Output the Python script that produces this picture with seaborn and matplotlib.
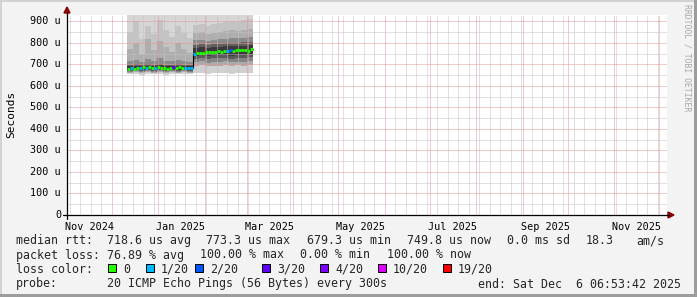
import numpy as np
import pandas as pd
import matplotlib
matplotlib.use("Agg")
import matplotlib.pyplot as plt
import matplotlib.dates as mdates
from matplotlib.patches import Rectangle, Polygon
from matplotlib.lines import Line2D
import seaborn as sns

# ---------------- data ----------------
start_date = "2024-12-11"          # first sample, 2-day consolidation for the median
median_us = [680, 682, 681, 684, 683, 686, 684, 690, 685, 683, 686, 684, 682, 681,
             684, 686, 683, 688, 684, 685, 684, 684,
             750, 754, 752, 753, 757, 758, 760, 756, 761, 759, 762, 763, 767, 764,
             766, 768, 765, 767, 764, 771]
loss_count = [0, 1, 0, 0, 1, 0, 1, 0, 0, 1, 0, 0, 0, 0, 0, 3, 0, 0, 0, 1, 1, 1,
              1, 0, 0, 0, 0, 0, 0, 0, 0, 0, 0, 1, 2, 0, 0, 0, 0, 0, 0, 0]

# smoke (ping distribution) at 4-day consolidation, lowest to highest
smoke_p0 = [654, 656, 653, 655, 654, 657, 653, 655, 654, 656, 655,
            658, 660, 656, 659, 658, 661, 657, 659, 658, 660]
smoke_p1 = [662, 663, 661, 663, 662, 664, 661, 663, 662, 663, 662,
            694, 697, 692, 695, 694, 698, 693, 696, 695, 699]
smoke_p2 = [667, 668, 666, 668, 667, 669, 666, 668, 667, 668, 667,
            711, 714, 709, 712, 712, 716, 710, 713, 713, 717]
smoke_p3 = [671, 672, 670, 672, 671, 673, 670, 672, 671, 672, 671,
            727, 730, 725, 728, 728, 732, 726, 729, 729, 733]
smoke_p4 = [676, 677, 675, 677, 676, 678, 675, 677, 676, 677, 676,
            741, 744, 739, 742, 743, 746, 741, 744, 744, 748]
smoke_q1 = [692, 694, 691, 695, 693, 697, 693, 692, 694, 693, 692,
            778, 781, 776, 780, 782, 784, 785, 786, 788, 790]
smoke_q2 = [698, 701, 697, 702, 699, 704, 699, 698, 701, 699, 698,
            792, 795, 790, 794, 797, 799, 800, 801, 803, 806]
smoke_q3 = [715, 722, 712, 725, 716, 730, 718, 714, 720, 716, 713,
            812, 816, 810, 815, 818, 820, 822, 822, 825, 828]
smoke_q4 = [770, 800, 750, 820, 765, 810, 780, 760, 800, 770, 755,
            845, 850, 842, 848, 852, 856, 858, 857, 862, 866]
smoke_q5 = [850, 900, 820, 880, 840, 905, 860, 830, 880, 845, 825,
            885, 890, 880, 888, 893, 897, 900, 898, 905, 910]

loss_labels = ["0", "1/20", "2/20", "3/20", "4/20", "10/20", "19/20"]
loss_thresholds = [0, 1, 2, 3, 4, 10, 19]
loss_colors = ["#26ff00", "#00b8ff", "#0059ff", "#5e00ff", "#7e00ff", "#dd00ff", "#ff0000"]

y_ticks = [0, 100, 200, 300, 400, 500, 600, 700, 800, 900]
x_label_text = ["Nov 2024", "Jan 2025", "Mar 2025", "May 2025", "Jul 2025", "Sep 2025", "Nov 2025"]
x_label_dates = ["2024-11-16", "2025-01-16", "2025-03-16", "2025-05-16",
                 "2025-07-16", "2025-09-16", "2025-11-16"]
x_start = "2024-11-01 06:53:42"
x_end = "2025-12-06 06:53:42"

stats_rtt = ["718.6 us avg", "773.3 us max", "679.3 us min", "749.8 us now",
             "0.0 ms sd", "18.3", "am/s"]
stats_loss = ["76.89 % avg", "100.00 % max", "0.00 % min", "100.00 % now"]
probe_text = "20 ICMP Echo Pings (56 Bytes) every 300s"
end_text = "end: Sat Dec  6 06:53:42 2025"

# ---------------- figure ----------------
W, H = 697, 297
sns.set_theme(style="white")
plt.rcParams["font.family"] = ["DejaVu Sans Mono", "DejaVu Sans"]

fig = plt.figure(figsize=(W / 100, H / 100), dpi=100, facecolor="#f3f3f3")

def fx(x):
    return x / W

def fy(y):
    return 1 - y / H

L, R, T, B = 67, 667, 15, 215
ax = fig.add_axes([fx(L), fy(B), (R - L) / W, (B - T) / H])
ax.set_facecolor("white")

times = pd.date_range(start_date, periods=len(median_us) + 1, freq="2D")
smoke_times = pd.date_range(start_date, periods=len(smoke_p0) + 1, freq="4D")

def ext(a):
    return np.append(np.asarray(a, float), a[-1])

bands = [
    (smoke_p0, smoke_p1, "#d0d0d0"),
    (smoke_p1, smoke_p2, "#aaaaaa"),
    (smoke_p2, smoke_p3, "#858585"),
    (smoke_p3, smoke_p4, "#5a5a5a"),
    (smoke_p4, smoke_q1, "#3a3a3a"),
    (smoke_q1, smoke_q2, "#606060"),
    (smoke_q2, smoke_q3, "#8a8a8a"),
    (smoke_q3, smoke_q4, "#aeaeae"),
    (smoke_q4, smoke_q5, "#c4c4c4"),
]
for lo, hi, c in bands:
    ax.fill_between(smoke_times, ext(lo), ext(hi), step="post", color=c,
                    linewidth=0, zorder=1)
ax.fill_between(smoke_times, ext(smoke_q5), np.full(len(smoke_times), 1000.0), step="post",
                color="#d6d6d6", linewidth=0, zorder=1)

# grid
ax.set_xlim(pd.Timestamp(x_start), pd.Timestamp(x_end))
ax.set_ylim(0, 930)
ax.xaxis.set_major_locator(mdates.MonthLocator())
ax.xaxis.set_minor_locator(mdates.WeekdayLocator(byweekday=mdates.SU))
ax.set_yticks(y_ticks)
ax.set_yticks(np.arange(50, 930, 100), minor=True)
ax.grid(which="minor", color="#c2c2c2", linestyle=(0, (1, 1)), linewidth=0.72, zorder=2)
ax.grid(which="major", color="#ea9494", linestyle=(0, (1, 1)), linewidth=0.72, zorder=2.1)
ax.set_axisbelow(False)
ax.tick_params(which="both", length=0, labelbottom=False, labelleft=False)
for s in ax.spines.values():
    s.set_visible(False)

# median line (black step underneath, coloured by loss on top)
df = pd.DataFrame({"t": times, "median": ext(median_us)})
sns.lineplot(data=df, x="t", y="median", drawstyle="steps-post", color="black",
             linewidth=0.8, ax=ax, zorder=3)

def loss_color(n):
    c = loss_colors[0]
    for th, col in zip(loss_thresholds, loss_colors):
        if n >= th:
            c = col
    return c

ax.hlines(median_us, times[:-1], times[1:], colors=[loss_color(n) for n in loss_count],
          linewidth=2.0, zorder=4)
ax.set_xlabel("")
ax.set_ylabel("")

# tick labels
tick_fs = 7.3
for v in y_ticks:
    lab = "0" if v == 0 else f"{v} u"
    ax.text(-0.01, v, lab, transform=ax.get_yaxis_transform(), ha="right", va="center",
            fontsize=tick_fs, color="black")
for d, lab in zip(x_label_dates, x_label_text):
    ax.text(pd.Timestamp(d), -0.035, lab, transform=ax.get_xaxis_transform(), ha="center",
            va="top", fontsize=tick_fs, color="black")

fig.text(fx(11), fy(114), "Seconds", rotation=90, ha="center", va="center",
         fontsize=8, color="black")
fig.text(fx(687), fy(4), "RRDTOOL / TOBI OETIKER", rotation=270, ha="center", va="top",
         fontsize=5.9, color="#a8a8a8")

# axis lines with arrows
axc = "#000000"
fig.add_artist(Line2D([fx(63), fx(669)], [fy(B), fy(B)], color=axc, linewidth=0.9))
fig.add_artist(Line2D([fx(L), fx(L)], [fy(B + 4), fy(12)], color=axc, linewidth=0.9))
arr = "#8b0000"
fig.add_artist(Polygon([[fx(668), fy(B - 3)], [fx(668), fy(B + 3)], [fx(674), fy(B)]],
                       closed=True, color=arr, transform=fig.transFigure))
fig.add_artist(Polygon([[fx(L - 3), fy(13)], [fx(L + 3), fy(13)], [fx(L), fy(7)]],
                       closed=True, color=arr, transform=fig.transFigure))

# legend text
lfs = 8.4
rows_y = [244, 258.5, 273, 287.5]
fig.text(fx(16), fy(rows_y[0]), "median rtt:", fontsize=lfs, va="baseline")
for x, s in zip([107, 206, 307, 407, 507, 586, 636], stats_rtt):
    fig.text(fx(x), fy(rows_y[0]), s, fontsize=lfs, va="baseline")
fig.text(fx(16), fy(rows_y[1]), "packet loss:", fontsize=lfs, va="baseline")
for x, s in zip([107, 200, 300, 387], stats_loss):
    fig.text(fx(x), fy(rows_y[1]), s, fontsize=lfs, va="baseline")
fig.text(fx(16), fy(rows_y[2]), "loss color:", fontsize=lfs, va="baseline")
box_x = [108, 146, 195, 262, 320, 378, 443]
for bx, lab, col in zip(box_x, loss_labels, loss_colors):
    fig.add_artist(Rectangle((fx(bx), fy(272)), 8 / W, 8 / H, transform=fig.transFigure,
                             facecolor=col, edgecolor="black", linewidth=0.7))
    fig.text(fx(bx + 15), fy(rows_y[2]), lab, fontsize=lfs, va="baseline")
fig.text(fx(16), fy(rows_y[3]), "probe:", fontsize=lfs, va="baseline")
fig.text(fx(107), fy(rows_y[3]), probe_text, fontsize=lfs, va="baseline")
fig.text(fx(681), fy(rows_y[3]), end_text, fontsize=lfs, va="baseline", ha="right")

# 3D-ish frame
fig.add_artist(Rectangle((0, fy(2)), 1, 2 / H, transform=fig.transFigure, color="#d2d2d2", lw=0))
fig.add_artist(Rectangle((0, 0), 2 / W, 1, transform=fig.transFigure, color="#d2d2d2", lw=0))
fig.add_artist(Rectangle((0, 0), 1, 3 / H, transform=fig.transFigure, color="#9c9c9c", lw=0))
fig.add_artist(Rectangle((fx(694), 0), 3 / W, 1, transform=fig.transFigure, color="#9c9c9c", lw=0))

fig.savefig("out.png", dpi=100, facecolor=fig.get_facecolor())
